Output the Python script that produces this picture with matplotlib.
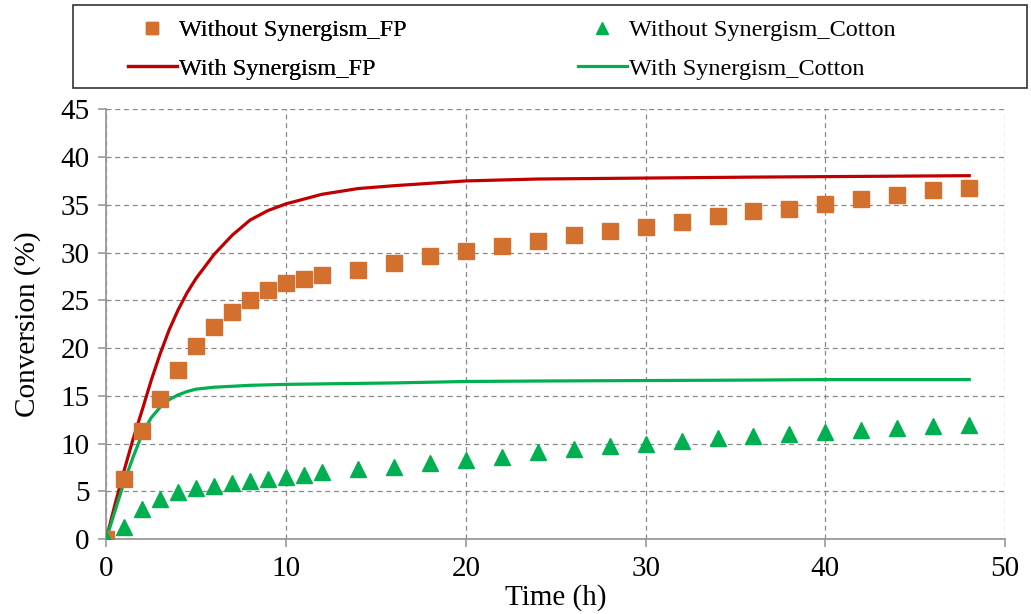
import matplotlib
matplotlib.use("Agg")
import matplotlib.pyplot as plt
from matplotlib.lines import Line2D
from matplotlib.patches import Rectangle

plt.rcParams['font.family'] = ['Liberation Serif', 'DejaVu Serif']

# Measured points (without synergism)
t_pts = [0, 1, 2, 3, 4, 5, 6, 7, 8, 9, 10, 11, 12, 14, 16, 18, 20, 22, 24, 26,
         28, 30, 32, 34, 36, 38, 40, 42, 44, 46, 48]
fp_pts = [0, 6.3, 11.3, 14.7, 17.7, 20.2, 22.2, 23.8, 25.0, 26.1, 26.8, 27.2, 27.6,
          28.2, 28.9, 29.6, 30.2, 30.7, 31.2, 31.8, 32.3, 32.7, 33.2, 33.8, 34.3,
          34.6, 35.1, 35.6, 36.0, 36.5, 36.8]
cot_pts = [0, 1.3, 3.1, 4.2, 4.9, 5.3, 5.6, 5.9, 6.1, 6.3, 6.5, 6.7, 7.0, 7.3, 7.6,
           8.0, 8.3, 8.6, 9.1, 9.4, 9.7, 10.0, 10.3, 10.6, 10.8, 11.0, 11.2, 11.4,
           11.6, 11.8, 11.9]

# Model curves (with synergism)
t_line = [0, 0.5, 1, 1.5, 2, 2.5, 3, 3.5, 4, 4.5, 5, 6, 7, 8, 9, 10, 12, 14, 16,
          20, 24, 30, 36, 40, 48]
fp_line = [0, 3.7, 7.2, 10.5, 13.5, 16.6, 19.4, 21.9, 24.0, 25.8, 27.3, 29.8, 31.8,
           33.4, 34.4, 35.1, 36.1, 36.7, 37.0, 37.5, 37.7, 37.8, 37.9, 37.95, 38.05]
cot_line = [0, 3.0, 6.0, 8.6, 11.0, 12.7, 13.8, 14.6, 15.1, 15.45, 15.7, 15.9, 16.0,
            16.1, 16.15, 16.2, 16.25, 16.3, 16.35, 16.5, 16.55, 16.6, 16.65, 16.7, 16.7]

labels = ["Without Synergism_FP", "Without Synergism_Cotton",
          "With Synergism_FP", "With Synergism_Cotton"]

c_sq = '#D4702E'
c_red = '#C00000'
c_grn = '#00B050'

W, H = 1031, 614
fig = plt.figure(figsize=(W / 100, H / 100), dpi=100)
ax = fig.add_axes([0.103, 0.122, 0.872, 0.700])

ax.plot(t_line, fp_line, color=c_red, lw=2.3, zorder=3)
ax.plot(t_line, cot_line, color=c_grn, lw=2.3, zorder=3)
ax.plot(t_pts, fp_pts, 's', color=c_sq, ms=11, zorder=4, mec=c_sq)
ax.plot(t_pts, cot_pts, '^', color=c_grn, ms=11, zorder=4, mec=c_grn)

ax.set_xlim(0, 50)
ax.set_ylim(0, 45)
ax.set_xticks(range(0, 51, 10))
ax.set_yticks(range(0, 46, 5))
ax.grid(True, ls=(0, (4, 3)), color='#888888', lw=0.9)
ax.set_axisbelow(True)
for s in ['top', 'right']:
    ax.spines[s].set_visible(False)
for s in ['left', 'bottom']:
    ax.spines[s].set_color('#999999')
    ax.spines[s].set_linewidth(1.3)
ax.tick_params(axis='both', labelsize=21, color='#999999', length=6, width=1.2)
ax.tick_params(axis='x', pad=6)
ax.tick_params(axis='y', pad=6)
ax.set_xlabel("Time (h)", fontsize=21, labelpad=2)
ax.set_ylabel("Conversion (%)", fontsize=21, labelpad=14)

# legend frame
fig.add_artist(Rectangle((73 / W, 1 - 88 / H), 954 / W, 83 / H,
                         transform=fig.transFigure, fill=False,
                         edgecolor='#333333', lw=1.2))

h_sq = Line2D([], [], ls='none', marker='s', color=c_sq, ms=9)
h_red = Line2D([], [], color=c_red, lw=2.3)
h_tri = Line2D([], [], ls='none', marker='^', color=c_grn, ms=9)
h_grn = Line2D([], [], color=c_grn, lw=2.3)

kw = dict(loc='upper left', fontsize=17.5, frameon=False, handlelength=2.0,
          handletextpad=0.1, borderpad=0, labelspacing=0.68, borderaxespad=0)
leg1 = fig.legend([h_sq, h_red], [labels[0], labels[2]],
                  bbox_to_anchor=(128 / W, 1 - 19 / H), **kw)
fig.add_artist(leg1)
leg2 = fig.legend([h_tri, h_grn], [labels[1], labels[3]],
                  bbox_to_anchor=(578 / W, 1 - 19 / H), **kw)

fig.savefig("out.png", dpi=100)
